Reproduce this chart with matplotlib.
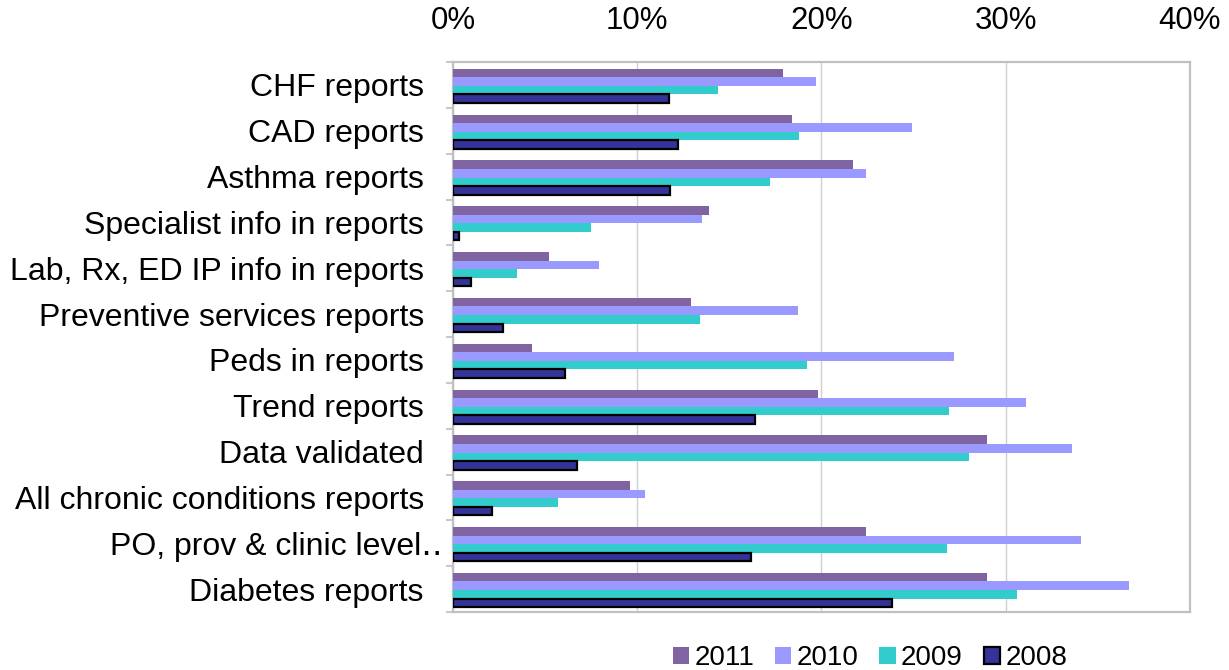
import matplotlib
matplotlib.use("Agg")
import matplotlib.pyplot as plt
import matplotlib.transforms as mtrans
import numpy as np
from matplotlib.ticker import FuncFormatter, FixedLocator

categories = [
    "CHF reports",
    "CAD reports",
    "Asthma reports",
    "Specialist info in reports",
    "Lab, Rx, ED IP info in reports",
    "Preventive services reports",
    "Peds in reports",
    "Trend reports",
    "Data validated",
    "All chronic conditions reports",
    "PO, prov & clinic level\u2025",
    "Diabetes reports",
]

series_names = ["2011", "2010", "2009", "2008"]
v2011 = [17.9, 18.4, 21.7, 13.9, 5.2, 12.9, 4.3, 19.8, 29.0, 9.6, 22.4, 29.0]
v2010 = [19.7, 24.9, 22.4, 13.5, 7.9, 18.7, 27.2, 31.1, 33.6, 10.4, 34.1, 36.7]
v2009 = [14.4, 18.8, 17.2, 7.5, 3.5, 13.4, 19.2, 26.9, 28.0, 5.7, 26.8, 30.6]
v2008 = [11.7, 12.2, 11.8, 0.35, 1.0, 2.7, 6.1, 16.4, 6.75, 2.1, 16.2, 23.85]

colors = ["#8064A2", "#9999FF", "#33CCCC", "#333399"]
edges = ["#8064A2", "#9999FF", "#33CCCC", "black"]
lws = [0, 0, 0, 1.6]

plt.rcParams['font.family'] = ['Liberation Sans', 'DejaVu Sans']

fig = plt.figure(figsize=(12.29, 6.70), dpi=100)
ax = fig.add_axes([453/1229, 1-612/670, (1190-453)/1229, (612-62)/670])

y = np.arange(len(categories))
h = 0.186
allv = [v2011, v2010, v2009, v2008]
for i, (name, vals) in enumerate(zip(series_names, allv)):
    ax.barh(y + (i - 1.5) * h + 0.02, vals, height=h, color=colors[i],
            edgecolor=edges[i], linewidth=lws[i], label=name, zorder=3)

ax.set_xlim(0, 40)
ax.set_ylim(len(categories) - 0.5, -0.5)
ax.set_xticks([0, 10, 20, 30, 40])
ax.xaxis.set_major_formatter(FuncFormatter(lambda v, p: f"{int(v)}%"))
ax.xaxis.tick_top()
ax.tick_params(axis='x', length=0, pad=19, labelsize=22.5)
ax.grid(axis='x', color='#D0D0D0', linewidth=1, zorder=0)

# Category labels: the truncated one sits further right (its ellipsis overhangs)
ax.set_yticks(y)
ax.set_yticklabels(["" if c.endswith("\u2025") else c for c in categories])
ax.tick_params(axis='y', which='major', length=0, pad=21, labelsize=23)
ytrans = mtrans.blended_transform_factory(ax.transAxes, ax.transData)
for yi, c in zip(y, categories):
    if c.endswith("\u2025"):
        ax.text(-10/737, yi, c, transform=ytrans, ha='right', va='center_baseline',
                fontsize=23, clip_on=False)
ax.yaxis.set_minor_locator(FixedLocator(np.arange(-0.5, len(categories), 1)))
ax.tick_params(axis='y', which='minor', length=5, width=1.5, color='#C8C8C8')

for s in ax.spines.values():
    s.set_color('#C0C0C0')
    s.set_linewidth(1.6)

handles, labels = ax.get_legend_handles_labels()
leg = fig.legend(handles, labels, loc='center', bbox_to_anchor=(870/1229, 1-658/670),
                 ncol=4, frameon=False, fontsize=20, handlelength=0.58, handleheight=0.58,
                 handletextpad=0.2, columnspacing=0.75, borderaxespad=0)

fig.savefig("out.png", dpi=100)
